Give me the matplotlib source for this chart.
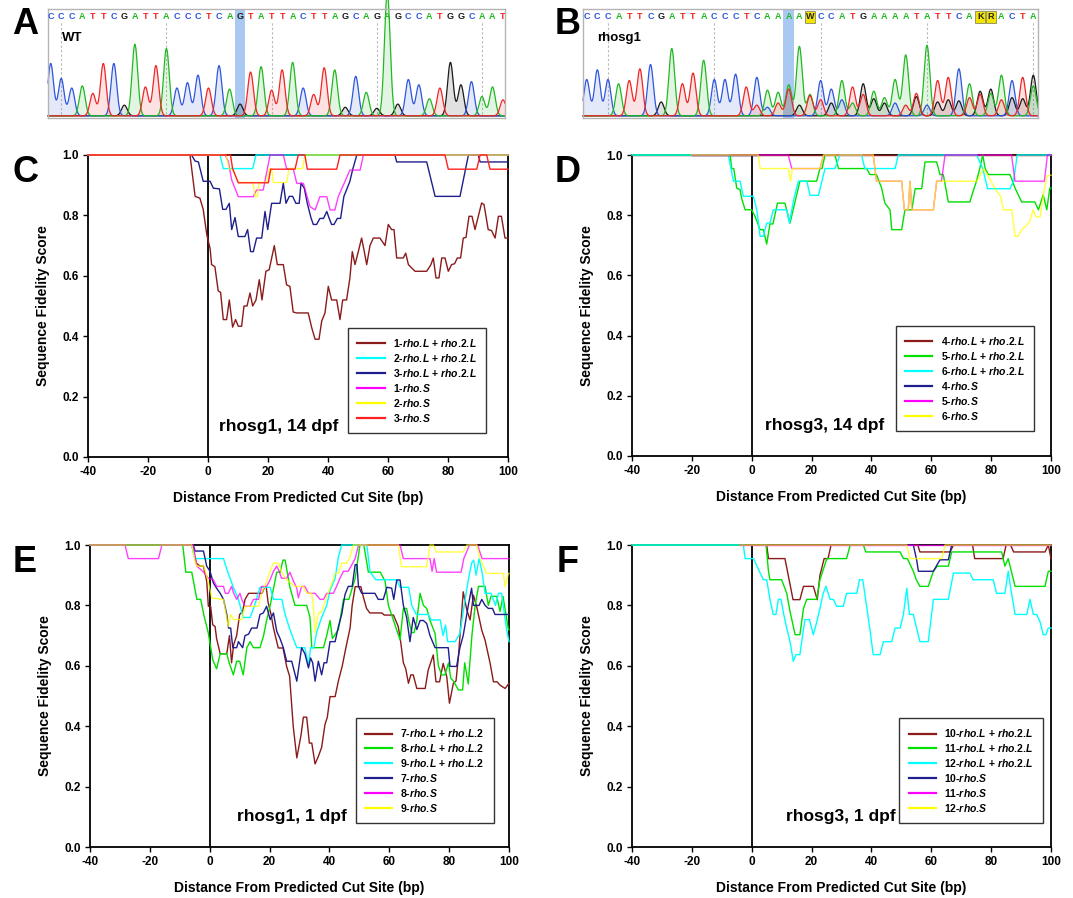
import numpy as np
import matplotlib
matplotlib.use("Agg")
import matplotlib.pyplot as plt
from matplotlib.lines import Line2D
from matplotlib.patches import Rectangle

plt.rcParams['font.family'] = 'Liberation Sans'
plt.rcParams['axes.unicode_minus'] = False
plt.rcParams['mathtext.fontset'] = 'custom'
plt.rcParams['mathtext.it'] = 'Liberation Sans:italic:bold'
plt.rcParams['mathtext.rm'] = 'Liberation Sans:bold'
plt.rcParams['mathtext.bf'] = 'Liberation Sans:bold'

# ---------------- chromatogram data (panels A, B) ----------------
seq_A = "CCCATTCGATTACCCTCAGTATTACTTAGCAGAGCCATGGCAAT"
peaks_A = [0.49, 0.35, 0.26, 0.28, 0.21, 0.49, 0.49, 0.10, 0.67, 0.27,
           0.47, 0.63, 0.26, 0.31, 0.38, 0.26, 0.47, 0.25, 0.11, 0.41,
           0.46, 0.24, 0.43, 0.50, 0.26, 0.20, 0.45, 0.43, 0.08, 0.37,
           0.22, 0.07, 1.15, 0.11, 0.34, 0.29, 0.16, 0.26, 0.50, 0.29,
           0.32, 0.18, 0.27, 0.15]
sec_seq_A = "-" * 44
sec_peaks_A = [0.0] * 44
highlight_A = 19
dashed_A = [2, 12, 22, 32, 42]

seq_B = "CCCATTCGATTACCCTCAAAAWCCATGAAAATATTCAKRACTA"
peaks_B = [0.34, 0.43, 0.34, 0.30, 0.33, 0.44, 0.48, 0.13, 0.63, 0.30,
           0.40, 0.52, 0.34, 0.34, 0.39, 0.27, 0.36, 0.24, 0.22, 0.29,
           0.65, 0.20, 0.33, 0.25, 0.33, 0.27, 0.30, 0.23, 0.17, 0.34,
           0.57, 0.21, 0.66, 0.33, 0.36, 0.44, 0.30, 0.23, 0.21, 0.38,
           0.33, 0.36, 0.28]
sec_seq_B = "----------------TCTTGTTGCATGGCTGCGGGTTGTGGG"
sec_peaks_B = [0, 0, 0, 0, 0, 0, 0, 0, 0, 0, 0, 0, 0, 0, 0, 0,
               0.10, 0.08, 0.12, 0.25, 0.10, 0.19, 0.15, 0.12, 0.15, 0.12,
               0.20, 0.16, 0.12, 0.12, 0.10, 0.18, 0.10, 0.13, 0.15, 0.14,
               0.17, 0.20, 0.25, 0.15, 0.17, 0.16, 0.38]
highlight_B = 20
dashed_B = [3, 13, 23, 33, 43]

# ---------------- fidelity score data (x = bp from cut site, y = score) ----------------
# Panel C: rhosg1, 14 dpf
C_1L = [(-40, 1.0), (-6, 1.0), (-4.3, 0.863), (-2.7, 0.857), (-1.6, 0.82), (-0.4, 0.736), (0.7, 0.69),
        (1.2, 0.637), (2.3, 0.63), (3.4, 0.55), (4.2, 0.545), (5.1, 0.455), (6.2, 0.455), (7.1, 0.52),
        (8.2, 0.43), (9.2, 0.455), (10.1, 0.433), (11.2, 0.433), (12.0, 0.50), (13.0, 0.50), (14.0, 0.543),
        (14.9, 0.50), (16.0, 0.52), (17.1, 0.587), (18.0, 0.52), (19.3, 0.615), (20.4, 0.62), (22.1, 0.70),
        (23.1, 0.637), (25.1, 0.637), (26.2, 0.57), (27.3, 0.565), (28.4, 0.48), (29.6, 0.477), (33.4, 0.477),
        (34.6, 0.427), (35.7, 0.39), (37.0, 0.39), (37.9, 0.45), (39.0, 0.477), (40.1, 0.565), (41.2, 0.52),
        (42.9, 0.52), (44.0, 0.455), (44.9, 0.52), (46.2, 0.52), (47.3, 0.593), (48.1, 0.68), (49.0, 0.637),
        (50.1, 0.68), (51.2, 0.725), (52.1, 0.68), (52.9, 0.637), (54.0, 0.70), (55.1, 0.725), (57.3, 0.725),
        (59.0, 0.70), (60.1, 0.77), (61.2, 0.753), (62.0, 0.753), (62.9, 0.659), (65.1, 0.659), (65.9, 0.675),
        (66.8, 0.637), (69.0, 0.615), (72.9, 0.615), (74.3, 0.637), (75.1, 0.659), (76.0, 0.593), (77.0, 0.593),
        (77.9, 0.659), (79.0, 0.659), (80.1, 0.615), (81.2, 0.637), (82.2, 0.64), (83.1, 0.659), (84.2, 0.659),
        (85.1, 0.725), (86.0, 0.727), (87.0, 0.797), (88.0, 0.797), (89.0, 0.753), (90.1, 0.797), (91.2, 0.841),
        (92.0, 0.836), (93.4, 0.753), (94.5, 0.75), (95.7, 0.725), (96.8, 0.797), (97.8, 0.797), (99.0, 0.725),
        (100, 0.725)]
C_2L = [(-40, 1.0), (4.0, 1.0), (5.1, 0.955), (14.9, 0.955), (16.0, 1.0), (100, 1.0)]
C_3L = [(-40, 1.0), (-5.5, 1.0), (-4.3, 0.98), (-3.2, 0.977), (-1.6, 0.913), (0.7, 0.913), (1.8, 0.89),
        (3.8, 0.888), (4.9, 0.82), (6.0, 0.82), (7.1, 0.84), (7.9, 0.753), (9.0, 0.793), (10.1, 0.73),
        (12.3, 0.73), (13.2, 0.753), (14.2, 0.68), (15.1, 0.68), (16.2, 0.725), (17.9, 0.725), (19.0, 0.813),
        (19.9, 0.753), (21.2, 0.84), (24.0, 0.84), (25.1, 0.907), (26.0, 0.84), (27.1, 0.863), (28.2, 0.863),
        (29.3, 0.84), (30.4, 0.84), (31.0, 0.907), (32.1, 0.89), (33.1, 0.84), (34.3, 0.793), (35.1, 0.77),
        (36.2, 0.77), (37.3, 0.79), (38.5, 0.79), (39.6, 0.813), (40.4, 0.79), (41.2, 0.77), (42.0, 0.77),
        (43.1, 0.79), (44.2, 0.79), (45.3, 0.863), (46.2, 0.885), (47.3, 0.913), (48.2, 0.951), (49.6, 1.0),
        (62.3, 1.0), (62.9, 0.977), (72.9, 0.977), (75.7, 0.863), (84.0, 0.863), (86.8, 1.0), (90.1, 1.0),
        (90.7, 0.977), (100, 0.977)]
C_1S = [(-40, 1.0), (5.7, 1.0), (6.8, 0.978), (7.9, 0.917), (10.1, 0.862), (15.1, 0.862), (16.2, 0.884),
        (18.4, 0.884), (19.6, 0.945), (20.7, 1.0), (25.1, 1.0), (26.2, 0.955), (28.4, 0.955), (29.6, 0.906),
        (31.8, 0.906), (34.0, 0.829), (35.7, 0.818), (37.3, 0.862), (39.6, 0.862), (40.7, 0.818), (42.3, 0.818),
        (43.4, 0.862), (45.1, 0.90), (47.3, 0.95), (50.7, 0.95), (51.8, 1.0), (100, 1.0)]
C_2S = [(-40, 1.0), (6.0, 1.0), (7.0, 0.955), (8.4, 0.95), (10.1, 0.909), (15.0, 0.909), (15.7, 0.863),
        (16.5, 0.863), (17.0, 0.909), (19.5, 0.91), (20.5, 0.955), (21.2, 0.955), (21.8, 0.909), (26.2, 0.909),
        (27.0, 0.955), (31.5, 0.955), (32.3, 1.0), (100, 1.0)]
C_3S = [(-40, 1.0), (7.5, 1.0), (8.2, 0.955), (10.1, 0.908), (20.1, 0.908), (20.9, 0.953), (29.0, 0.953),
        (30.1, 1.0), (32.3, 1.0), (33.1, 0.953), (42.9, 0.953), (44.0, 1.0), (79.0, 1.0), (80.1, 0.953),
        (89.6, 0.953), (90.7, 1.0), (92.9, 1.0), (94.0, 0.953), (100, 0.953)]

# Panel D: rhosg3, 14 dpf
D_4L = [(-40, 1.0), (100, 1.0)]
D_5L = [(-40, 1.0), (-7.2, 1.0), (-6.7, 0.955), (-6.0, 0.955), (-5.0, 0.89), (-3.9, 0.885), (-3.4, 0.857),
        (-2.2, 0.818), (0.0, 0.818), (1.1, 0.796), (2.8, 0.752), (3.9, 0.752), (5.0, 0.704), (6.1, 0.771),
        (7.1, 0.771), (8.6, 0.84), (11.1, 0.84), (12.8, 0.774), (16.1, 0.913), (21.7, 0.913), (22.8, 0.955),
        (23.5, 0.955), (24.5, 1.0), (27.8, 1.0), (29.0, 0.955), (38.4, 0.955), (39.5, 0.935), (41.7, 0.935),
        (43.4, 0.89), (44.5, 0.84), (46.2, 0.818), (46.8, 0.752), (50.1, 0.752), (51.2, 0.818), (53.5, 0.818),
        (54.6, 0.888), (56.8, 0.888), (57.9, 0.977), (61.8, 0.977), (62.9, 0.935), (64.0, 0.935), (65.7, 0.844),
        (72.9, 0.844), (74.0, 0.88), (75.1, 0.913), (76.2, 0.955), (77.2, 1.0), (78.0, 0.955), (79.1, 0.935),
        (86.3, 0.935), (88.0, 0.89), (90.2, 0.844), (94.6, 0.844), (95.8, 0.818), (97.4, 0.868), (98.6, 0.818),
        (99.6, 0.89), (100, 0.89)]
D_6L = [(-40, 1.0), (-7.8, 1.0), (-6.1, 0.913), (-3.9, 0.913), (-2.8, 0.863), (0.55, 0.863), (1.7, 0.818),
        (2.8, 0.73), (3.9, 0.73), (5.0, 0.774), (6.1, 0.774), (7.2, 0.818), (11.7, 0.818), (12.6, 0.774),
        (14.0, 0.85), (15.6, 0.913), (18.4, 0.913), (19.5, 0.866), (22.3, 0.866), (24.5, 0.955), (27.8, 0.955),
        (29.5, 1.0), (36.7, 1.0), (37.8, 0.955), (47.9, 0.955), (49.0, 1.0), (75.1, 1.0), (76.2, 0.977),
        (77.2, 0.955), (78.8, 0.888), (86.3, 0.888), (87.5, 0.913), (88.7, 1.0), (100, 1.0)]
D_4S = [(-20, 1.0), (2.0, 1.0)]
D_5S = [(-20, 1.0), (12.2, 1.0), (13.4, 0.955), (22.8, 0.955), (24.0, 1.0), (40.6, 1.0), (41.7, 0.913),
        (50.1, 0.913), (51.0, 0.818), (52.3, 0.818), (52.9, 0.913), (53.5, 0.818), (60.7, 0.818), (61.8, 0.913),
        (63.4, 0.913), (64.6, 1.0), (86.8, 1.0), (88.0, 0.913), (97.8, 0.913), (98.8, 1.0), (100, 1.0)]
D_6S = [(-20, 1.0), (2.2, 1.0), (2.8, 0.955), (12.2, 0.955), (13.0, 0.913), (13.6, 0.955), (22.8, 0.955),
        (24.0, 1.0), (40.6, 1.0), (41.7, 0.913), (50.1, 0.913), (51.0, 0.818), (52.3, 0.818), (52.9, 0.913),
        (53.5, 0.818), (60.7, 0.818), (61.8, 0.913), (64.9, 0.913), (75.3, 0.913), (77.5, 0.955), (79.0, 0.93),
        (81.2, 0.889), (83.2, 0.862), (84.1, 0.818), (86.9, 0.818), (88.0, 0.73), (89.0, 0.73), (90.2, 0.752),
        (91.7, 0.765), (92.9, 0.779), (94.0, 0.818), (95.0, 0.795), (96.4, 0.795), (97.5, 0.87), (98.6, 0.93),
        (100, 0.933)]

# Panel E: rhosg1, 1 dpf
E_7L = [(-40, 1.0), (-6, 1.0), (-4.5, 0.94), (-3.2, 0.93), (-2.1, 0.93), (-1.0, 0.88), (-0.45, 0.797),
        (0.3, 0.797), (1.0, 0.736), (1.8, 0.73), (2.3, 0.69), (3.5, 0.64), (5.7, 0.64), (6.6, 0.70), (7.3, 0.61),
        (8.0, 0.67), (9.0, 0.70), (10.0, 0.77), (11.0, 0.78), (11.8, 0.82), (13.0, 0.84), (17.5, 0.84),
        (18.3, 0.86), (18.9, 0.86), (19.5, 0.81), (20.5, 0.77), (21.3, 0.725), (22.9, 0.659), (24.5, 0.659),
        (25.7, 0.598), (26.7, 0.565), (27.9, 0.40), (29.1, 0.295), (30.5, 0.37), (31.3, 0.43), (32.4, 0.43),
        (33.3, 0.344), (34.1, 0.344), (35.2, 0.275), (36.3, 0.30), (37.4, 0.33), (38.5, 0.405), (39.3, 0.43),
        (40.2, 0.498), (41.9, 0.498), (43.0, 0.55), (44.3, 0.60), (45.5, 0.66), (46.9, 0.725), (47.6, 0.80),
        (48.6, 0.862), (50.5, 0.862), (51.3, 0.829), (52.4, 0.79), (53.5, 0.775), (57.5, 0.775), (58.3, 0.768),
        (61.4, 0.768), (63.0, 0.73), (63.8, 0.68), (64.7, 0.61), (65.5, 0.59), (66.4, 0.542), (67.2, 0.57),
        (68.0, 0.57), (69.2, 0.525), (72.0, 0.525), (73.0, 0.586), (74.7, 0.636), (75.6, 0.547), (76.8, 0.547),
        (78.0, 0.608), (79.2, 0.564), (80.1, 0.476), (81.4, 0.542), (82.3, 0.55), (83.1, 0.63), (84.7, 0.845),
        (85.9, 0.785), (87.0, 0.752), (88.1, 0.834), (89.2, 0.796), (90.9, 0.718), (92.0, 0.685), (93.7, 0.608),
        (94.8, 0.547), (96.0, 0.547), (97.0, 0.536), (98.7, 0.525), (100, 0.542)]
E_8L = [(-40, 1.0), (-9, 1.0), (-8, 0.91), (-6, 0.91), (-4.3, 0.82), (-3, 0.82), (-2, 0.77), (-0.5, 0.71),
        (1, 0.62), (2.3, 0.59), (3.5, 0.64), (5.7, 0.64), (6.5, 0.61), (7.9, 0.57), (9, 0.615), (10, 0.615),
        (11.2, 0.57), (12.4, 0.66), (13.5, 0.68), (14.6, 0.66), (16.8, 0.66), (18, 0.70), (19, 0.75), (20, 0.79),
        (21.2, 0.85), (22.4, 0.91), (23.5, 0.91), (24.5, 0.95), (25.2, 0.95), (26.8, 0.86), (28.5, 0.80),
        (32.4, 0.80), (33.5, 0.76), (34.1, 0.66), (38, 0.66), (39.1, 0.70), (40.2, 0.75), (41, 0.69), (43, 0.72),
        (44.7, 0.82), (46.5, 0.82), (48.6, 0.89), (50.2, 1.0), (51.5, 1.0), (53, 0.91), (57, 0.91), (58.6, 0.88),
        (59.7, 0.80), (61.9, 0.736), (63.6, 0.686), (64.7, 0.79), (65.8, 0.79), (66.5, 0.75), (67.5, 0.71),
        (68.3, 0.71), (69.2, 0.75), (70.3, 0.84), (71.4, 0.80), (72.5, 0.79), (73.6, 0.75), (75.3, 0.707),
        (76.4, 0.60), (77.5, 0.57), (78.6, 0.57), (79.8, 0.61), (80.5, 0.56), (81.4, 0.55), (83.1, 0.52),
        (84.5, 0.52), (85.2, 0.61), (86.4, 0.54), (87.6, 0.70), (88.7, 0.80), (89.8, 0.863), (92, 0.863),
        (93.1, 0.80), (94, 0.83), (95.9, 0.83), (97, 0.78), (98, 0.83), (99.8, 0.72), (100, 0.72)]
E_9L = [(-40, 1.0), (-6, 1.0), (-5, 0.955), (4.6, 0.955), (5.7, 0.92), (7.9, 0.86), (9.6, 0.82), (11.2, 0.76),
        (13.5, 0.76), (15, 0.80), (16.8, 0.86), (20.2, 0.86), (21.3, 0.82), (24.1, 0.82), (25.2, 0.77),
        (26.8, 0.72), (29.1, 0.66), (31.8, 0.66), (33, 0.60), (33.7, 0.66), (34.8, 0.66), (35.7, 0.71),
        (37.4, 0.76), (39.1, 0.80), (40.2, 0.85), (41.9, 0.89), (43, 0.96), (44.1, 1.0), (52.5, 1.0),
        (53.6, 0.91), (55.5, 0.885), (62.5, 0.885), (63.6, 0.86), (66.5, 0.86), (67.5, 0.80), (69, 0.77),
        (73, 0.77), (74, 0.752), (77, 0.752), (78, 0.70), (78.8, 0.735), (79.5, 0.68), (82, 0.68), (83.6, 0.707),
        (85.3, 0.818), (86.4, 0.884), (87.5, 0.94), (88.2, 0.95), (89, 0.90), (90, 0.955), (91, 0.91),
        (92, 0.84), (94, 0.84), (95.5, 0.80), (96.5, 0.84), (97.5, 0.84), (99.2, 0.72), (100, 0.68)]
E_7S = [(-40, 1.0), (-5.5, 1.0), (-4.9, 0.98), (-2.1, 0.98), (-1, 0.93), (0.1, 0.913), (1.2, 0.875),
        (2.3, 0.857), (3.5, 0.84), (4.6, 0.82), (5.7, 0.77), (6.3, 0.725), (7, 0.725), (7.7, 0.66), (9, 0.66),
        (9.6, 0.68), (10.3, 0.67), (11, 0.66), (11.8, 0.70), (13, 0.705), (14, 0.725), (15.8, 0.725),
        (16.8, 0.77), (17.9, 0.775), (19, 0.797), (20.2, 0.753), (21.3, 0.775), (22.4, 0.714), (23.5, 0.69),
        (24.6, 0.66), (25.7, 0.615), (27.4, 0.615), (29.1, 0.549), (30.7, 0.66), (31.8, 0.64), (33, 0.593),
        (33.7, 0.626), (34.4, 0.61), (35.2, 0.549), (36.3, 0.615), (37.4, 0.57), (38.2, 0.61), (39.1, 0.61),
        (40.2, 0.68), (41.9, 0.68), (43, 0.73), (44.1, 0.77), (45.2, 0.836), (46.3, 0.863), (47.6, 0.863),
        (48.6, 0.935), (49.2, 0.935), (49.7, 0.863), (50.8, 0.84), (55.2, 0.84), (56.3, 0.82), (58, 0.82),
        (59.2, 0.86), (60.8, 0.857), (61.5, 0.82), (62.5, 0.884), (63.6, 0.884), (64.7, 0.80), (65.8, 0.76),
        (66.9, 0.68), (68, 0.76), (69.2, 0.72), (70.3, 0.75), (71.4, 0.75), (72.5, 0.74), (73.6, 0.70),
        (75.3, 0.66), (79.7, 0.66), (80.3, 0.598), (82.5, 0.598), (83.6, 0.66), (84.7, 0.70), (86.4, 0.80),
        (87.5, 0.857), (88.1, 0.80), (90, 0.80), (90.9, 0.82), (92, 0.80), (93.1, 0.79), (94.5, 0.79),
        (95.3, 0.77), (100, 0.77)]
E_8S = [(-40, 1.0), (-28.3, 1.0), (-27.2, 0.955), (-17.1, 0.955), (-16, 1.0), (-5.5, 1.0), (-4.3, 0.93),
        (-2, 0.91), (-0.45, 0.89), (1.2, 0.885), (2.3, 0.863), (4.6, 0.863), (5.2, 0.84), (6.2, 0.84),
        (7.3, 0.863), (8, 0.84), (9, 0.82), (10.1, 0.84), (10.7, 0.82), (11.8, 0.797), (13.5, 0.797),
        (14.6, 0.82), (16.3, 0.82), (17.4, 0.863), (19, 0.863), (20.2, 0.885), (21.3, 0.913), (22.4, 0.93),
        (23.2, 0.913), (24, 0.89), (25.7, 0.89), (26.8, 0.91), (28, 0.88), (29.1, 0.857), (29.6, 0.825),
        (30.7, 0.863), (31.8, 0.863), (33, 0.84), (35.2, 0.84), (36.9, 0.82), (38, 0.82), (39.1, 0.84),
        (41.3, 0.84), (42.4, 0.863), (43.5, 0.89), (44.7, 0.913), (46.3, 0.913), (47.5, 0.935), (48.6, 0.955),
        (49.7, 1.0), (63.6, 1.0), (64.7, 0.955), (73.6, 0.955), (74.3, 0.913), (75, 0.955), (75.8, 0.91),
        (84, 0.91), (84.9, 0.955), (86.8, 1.0), (89.5, 1.0), (91, 0.955), (100, 0.955)]
E_9S = [(-40, 1.0), (-6, 1.0), (-5, 0.95), (-4.3, 0.93), (-2, 0.93), (-0.5, 0.88), (0.7, 0.824), (4.6, 0.82),
        (5.7, 0.758), (6.2, 0.73), (7, 0.77), (7.9, 0.753), (10.7, 0.753), (11.8, 0.797), (16.3, 0.797),
        (17.4, 0.84), (19, 0.88), (20.2, 0.913), (21.3, 0.94), (22.9, 0.94), (24, 0.91), (25.7, 0.885),
        (28.5, 0.863), (31.3, 0.863), (32.4, 0.84), (34.1, 0.84), (34.7, 0.79), (35.2, 0.71), (36.3, 0.774),
        (37.4, 0.78), (39.1, 0.829), (40.8, 0.873), (41.9, 0.906), (43, 0.906), (44.1, 0.94), (45.8, 0.94),
        (46.9, 0.96), (48, 1.0), (63, 1.0), (64.1, 0.928), (72.5, 0.928), (73.6, 1.0), (74.7, 1.0),
        (75.8, 0.977), (84.7, 0.977), (85.9, 1.0), (89.2, 1.0), (90.3, 0.955), (92.5, 0.906), (98.1, 0.906),
        (98.7, 0.862), (99.8, 0.906), (100, 0.906)]

# Panel F: rhosg3, 1 dpf
F_10L = [(-40, 1.0), (5.0, 1.0), (5.6, 0.955), (11.1, 0.955), (12.8, 0.87), (13.8, 0.819), (16.1, 0.819),
         (17.3, 0.863), (20.6, 0.863), (21.9, 0.819), (22.8, 0.90), (24.2, 0.955), (25.5, 0.955), (26.5, 1.0),
         (55.5, 1.0), (56.2, 0.977), (66.3, 0.977), (67.4, 1.0), (73.8, 1.0), (74.5, 0.955), (84, 0.955),
         (85, 1.0), (86.5, 1.0), (87.5, 0.977), (98, 0.977), (99.1, 1.0), (100, 0.955)]
F_11L = [(-40, 1.0), (4.8, 1.0), (5.6, 0.913), (6.1, 0.885), (10, 0.885), (11.7, 0.84), (12.8, 0.78),
         (14.5, 0.703), (16.1, 0.703), (17.3, 0.79), (18.4, 0.82), (21.7, 0.82), (22.8, 0.885), (25.1, 0.955),
         (31.7, 0.955), (32.9, 1.0), (37.3, 1.0), (38.1, 0.977), (49.6, 0.977), (50.7, 0.955), (52, 0.955),
         (54, 0.913), (55, 0.885), (56.2, 0.863), (59, 0.863), (60.7, 0.913), (62, 0.93), (65.7, 0.93),
         (66.8, 0.977), (83.5, 0.977), (84.6, 0.93), (85.7, 0.955), (88, 0.863), (98, 0.863), (99.1, 0.913),
         (100, 0.913)]
F_12L = [(-40, 1.0), (-2.8, 1.0), (-2.2, 0.955), (0.6, 0.955), (2.2, 0.92), (3.9, 0.885), (5, 0.885),
         (6.1, 0.82), (7.2, 0.77), (8.1, 0.77), (8.9, 0.82), (9.8, 0.82), (10.7, 0.77), (11.7, 0.725),
         (12.8, 0.68), (13.9, 0.615), (14.8, 0.637), (16.1, 0.637), (17, 0.70), (17.8, 0.753), (19.3, 0.753),
         (20.6, 0.703), (21.6, 0.74), (22.8, 0.79), (23.9, 0.84), (24.8, 0.863), (26.2, 0.82), (27.3, 0.82),
         (28.4, 0.797), (30.6, 0.797), (31.7, 0.84), (35.1, 0.84), (36, 0.885), (37.1, 0.885), (38.4, 0.797),
         (39.5, 0.72), (40.6, 0.637), (42.9, 0.637), (44, 0.68), (46.8, 0.68), (47.9, 0.725), (49.6, 0.725),
         (50.7, 0.77), (51.8, 0.857), (52.7, 0.77), (54, 0.77), (56.2, 0.68), (59, 0.68), (60.7, 0.82),
         (65.7, 0.82), (67.4, 0.907), (72.9, 0.907), (74, 0.885), (80.7, 0.885), (81.8, 0.84), (84.6, 0.84),
         (85.7, 0.913), (86.5, 0.86), (88, 0.77), (91.9, 0.77), (93, 0.82), (94.1, 0.77), (95.2, 0.77),
         (96.3, 0.747), (97.4, 0.703), (98.3, 0.703), (99.1, 0.725), (100, 0.725)]
F_10S = [(-4, 1.0), (54, 1.0), (55.1, 0.951), (55.7, 0.913), (60.7, 0.913), (62.9, 0.951), (65.7, 0.951),
         (66.8, 1.0), (100, 1.0)]
F_11S = [(-4, 1.0), (100, 1.0)]
F_12S = [(-4, 1.0), (51.8, 1.0), (52.9, 0.955), (63.5, 0.955), (64.6, 1.0), (100, 1.0)]

LL = "$\\mathit{rho.\\!L}$ + $\\mathit{rho.\\!2.\\!L}$"
LL2 = "$\\mathit{rho.\\!L}$ + $\\mathit{rho.\\!L.\\!2}$"
LS = "$\\mathit{rho.\\!S}$"
labels_C = ["1-" + LL, "2-" + LL, "3-" + LL, "1-" + LS, "2-" + LS, "3-" + LS]
labels_D = ["4-" + LL, "5-" + LL, "6-" + LL, "4-" + LS, "5-" + LS, "6-" + LS]
labels_E = ["7-" + LL2, "8-" + LL2, "9-" + LL2, "7-" + LS, "8-" + LS, "9-" + LS]
labels_F = ["10-" + LL, "11-" + LL, "12-" + LL, "10-" + LS, "11-" + LS, "12-" + LS]

# ---------------- styling ----------------
BROWN, CYAN, NAVY, MAG, YEL, RED, GRN = '#8b1a1a', '#00ffff', '#1e1e8c', '#ff00ff', '#ffff00', '#ff2020', '#00e000'
colors_C = [BROWN, CYAN, NAVY, MAG, YEL, RED]
colors_DEF = [BROWN, GRN, CYAN, NAVY, MAG, YEL]
BASE_COL = {'A': '#22b822', 'C': '#2f56dc', 'G': '#1a1a1a', 'T': '#ee2626'}

W, H = 1073, 898
fig = plt.figure(figsize=(W / 100, H / 100), dpi=100)


def px_axes(l, t, r, b):
    return fig.add_axes([l / W, 1 - b / H, (r - l) / W, (b - t) / H])


def chromatogram(ax, seq, peaks, sec_seq, sec_peaks, xlim, hl, dashed, label):
    ax.set_xlim(*xlim)
    ax.set_ylim(0, 1)
    base, scale, sig = 0.02, 0.98, 0.27
    xs = np.linspace(xlim[0], xlim[1], 1800)
    traces = {k: np.zeros_like(xs) for k in 'ACGT'}
    prim = {'W': 'A', 'K': 'G', 'R': 'A'}
    for i, (b, h) in enumerate(zip(seq, peaks), start=1):
        traces[prim.get(b, b)] += h * np.exp(-0.5 * ((xs - i) / sig) ** 2)
    for i, (b, h) in enumerate(zip(sec_seq, sec_peaks), start=1):
        if b in traces and h > 0:
            traces[b] += h * np.exp(-0.5 * ((xs - i) / sig) ** 2)
    ax.axvspan(hl - 0.5, hl + 0.5, color='#a9c8f2', lw=0, zorder=0.5)
    for k in ['G', 'C', 'A', 'T']:
        y = base + scale * traces[k]
        ax.fill_between(xs, base, y, color=BASE_COL[k], alpha=0.13, lw=0, zorder=1, clip_on=False)
        ax.plot(xs, y, color=BASE_COL[k], lw=0.9, zorder=2, clip_on=False)
    for d in dashed:
        ax.plot([d, d], [0.04, 0.88], color='#b8b8b8', lw=0.8, ls=(0, (2, 2)), zorder=0.8)
    for i, b in enumerate(seq, start=1):
        if b in 'WKR':
            ax.add_patch(Rectangle((i - 0.45, 0.875), 0.9, 0.11, facecolor='#f2e400',
                                   edgecolor='#8a8a60', lw=0.6, zorder=1.5))
            col = '#222222'
        else:
            col = BASE_COL[b]
        ax.text(i, 0.93, b, color=col, fontsize=6.5, fontweight='bold', ha='center', va='center',
                clip_on=True, zorder=3)
    ax.text(0.03, 0.73, label, transform=ax.transAxes, fontsize=9.5, fontweight='bold',
            ha='left', va='center', zorder=4)
    ax.set_xticks([])
    ax.set_yticks([])
    for s in ax.spines.values():
        s.set_color('#b4b4b4')
        s.set_linewidth(1.0)


def fidelity_panel(ax, series, colors, labels, note, note_x, leg_x1, leg_y0):
    for pts, c in zip(series, colors):
        xs, ys = zip(*pts)
        a = 0.75 if c in (MAG, YEL) else 1.0
        ax.plot(xs, ys, color=c, lw=1.0, alpha=a, zorder=3, clip_on=False)
    ax.axvline(0, color='black', lw=1.3, zorder=2)
    ax.set_xlim(-40, 100)
    ax.set_ylim(0, 1)
    ax.set_xticks(np.arange(-40, 101, 20))
    yt = np.arange(0, 1.01, 0.2)
    ax.set_yticks(yt)
    ax.set_yticklabels([f'{v:.1f}' for v in yt])
    ax.tick_params(direction='out', length=3.8, width=1.0, labelsize=8.5, pad=3)
    for lab in ax.get_xticklabels() + ax.get_yticklabels():
        lab.set_fontweight('bold')
    for s in ax.spines.values():
        s.set_linewidth(1.3)
    ax.set_xlabel('Distance From Predicted Cut Site (bp)', fontsize=10, fontweight='bold')
    ax.set_ylabel('Sequence Fidelity Score', fontsize=10, fontweight='bold')
    ax.xaxis.set_label_coords(0.5, -0.113)
    ax.yaxis.set_label_coords(-0.09, 0.5)
    ax.text(note_x, 0.10, note, fontsize=12.5, fontweight='bold', ha='center', va='center')
    handles = [Line2D([], [], color=c, lw=1.6) for c in colors]
    leg = ax.legend(handles, labels, loc='lower right', bbox_to_anchor=(leg_x1, leg_y0),
                    prop=dict(weight='bold', size=7.5), frameon=True, fancybox=False,
                    edgecolor='black', handlelength=2.6, handletextpad=0.8, labelspacing=0.28,
                    borderpad=0.9, borderaxespad=0)
    leg.get_frame().set_linewidth(1.0)
    leg.set_zorder(5)


axA = px_axes(48, 9, 505, 118)
chromatogram(axA, seq_A, peaks_A, sec_seq_A, sec_peaks_A, (0.74, 44.19), highlight_A, dashed_A, 'WT')
axB = px_axes(583, 9, 1038, 118)
chromatogram(axB, seq_B, peaks_B, sec_seq_B, sec_peaks_B, (0.65, 43.44), highlight_B, dashed_B, 'rhosg1')

axC = px_axes(88, 155, 508, 457)
fidelity_panel(axC, [C_1L, C_2L, C_3L, C_1S, C_2S, C_3S], colors_C, labels_C,
               'rhosg1, 14 dpf', 23.7, 0.948, 0.0795)
axD = px_axes(632, 155, 1051, 456)
fidelity_panel(axD, [D_4L, D_5L, D_6L, D_4S, D_5S, D_6S], colors_DEF, labels_D,
               'rhosg3, 14 dpf', 24.2, 0.959, 0.083)
axE = px_axes(90, 545, 509, 847)
fidelity_panel(axE, [E_7L, E_8L, E_9L, E_7S, E_8S, E_9S], colors_DEF, labels_E,
               'rhosg1, 1 dpf', 27.5, 0.964, 0.079)
axF = px_axes(632, 545, 1051, 847)
fidelity_panel(axF, [F_10L, F_11L, F_12L, F_10S, F_11S, F_12S], colors_DEF, labels_F,
               'rhosg3, 1 dpf', 29.8, 0.981, 0.079)

for letter, (x, y) in zip('ABCDEF', [(25, 24), (568, 24), (25, 173), (568, 173), (25, 562), (568, 562)]):
    fig.text(x / W, 1 - y / H, letter, fontsize=26, fontweight='bold', ha='center', va='center')

fig.savefig('out.png', dpi=100)
